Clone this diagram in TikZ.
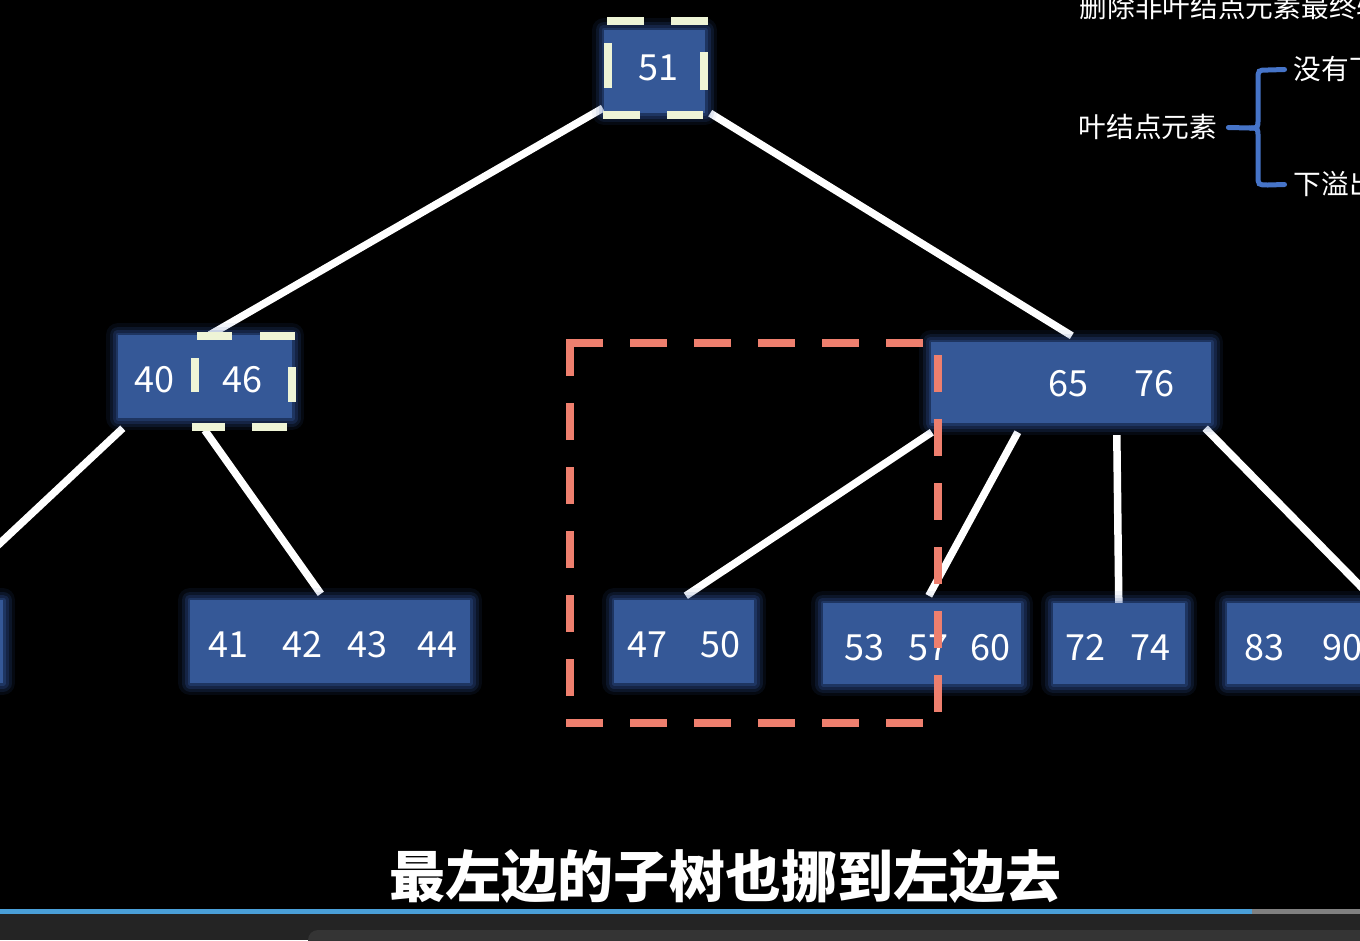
\documentclass[tikz,border=0pt]{standalone}
\usepackage{fontspec}
\setmainfont{Noto Sans CJK SC}
\usetikzlibrary{calc}
\definecolor{nodeblue}{HTML}{355897}
\definecolor{glowblue}{HTML}{3558A0}
\definecolor{cream}{HTML}{EEF4D6}
\definecolor{salmon}{HTML}{EE7F6E}
\definecolor{bracecol}{HTML}{4674C8}
\definecolor{barblue}{HTML}{4A9FD8}
\definecolor{bargray}{HTML}{808080}
\definecolor{bandgray}{HTML}{242424}
\definecolor{pillgray}{HTML}{343434}
\tikzset{
  keybox/.style={rectangle, inner sep=0pt, fill=nodeblue,
    preaction={draw=glowblue, line width=24pt, draw opacity=0.06, line join=round},
    preaction={draw=glowblue, line width=17pt, draw opacity=0.09, line join=round},
    preaction={draw=glowblue, line width=11pt, draw opacity=0.13, line join=round},
    preaction={draw=glowblue, line width=5pt, draw opacity=0.18, line join=round}},
  num/.style={text=white, font=\fontsize{36}{40}\selectfont, inner sep=0pt, anchor=base},
  edgeline/.style={draw=white, line width=7.5pt},
  creamdash/.style={draw=cream, line width=8pt},
  reddash/.style={draw=salmon, line width=8pt, dash pattern=on 37pt off 27pt},
  sidetext/.style={text=white, font=\fontsize{27.7}{30}\selectfont, inner sep=0pt, anchor=base west},
  bracepath/.style={draw=bracecol, line width=5pt, line cap=round},
}
\begin{document}
\begin{tikzpicture}[x=1pt,y=-1pt]
\useasboundingbox (0,0) rectangle (1360,940);
\fill[black] (0,0) rectangle (1360,940);
\clip (0,0) rectangle (1360,940);

% internal nodes
\path
  (654.5,71.5)  node[keybox, minimum width=101pt, minimum height=83pt] (n51) {}
  (205,376.5)   node[keybox, minimum width=174pt, minimum height=83pt] (n4046) {}
  (1071,382.5)  node[keybox, minimum width=280pt, minimum height=81pt] (n6576) {};

% leaf nodes
\path
  (-48.5,641.5) node[keybox, minimum width=103pt, minimum height=83pt] (nL0) {}
  (330,641.5)   node[keybox, minimum width=280pt, minimum height=83pt] (n41) {}
  (684,641.5)   node[keybox, minimum width=140pt, minimum height=83pt] (n4750) {}
  (922,643.5)   node[keybox, minimum width=198pt, minimum height=81pt] (n5360) {}
  (1119,643.5)  node[keybox, minimum width=132pt, minimum height=81pt] (n7274) {}
  (1313.5,643.5) node[keybox, minimum width=173pt, minimum height=81pt] (n8390) {};

% edges
\draw[edgeline] ([xshift=-1pt,yshift=5pt]n51.south west) -- ($(n4046.north west)+(92,0)$);
\draw[edgeline] ([xshift=5pt]n51.south east) -- ($(n6576.north west)+(141,-6)$);
\draw[edgeline] ($(n4046.south west)+(5,10)$) -- ($(nL0.north west)+(42,-2)$);
\draw[edgeline] ($(n4046.south west)+(87,12)$) -- ($(n41.north west)+(131,-6)$);
\draw[edgeline] ($(n6576.south west)+(1,9)$) -- ($(n4750.north west)+(72,-4)$);
\draw[edgeline] ($(n6576.south west)+(87,9)$) -- ($(n5360.north west)+(106,-7)$);
\draw[edgeline] ($(n6576.south west)+(186,12)$) -- ($(n7274.north west)+(66,0)$);
\draw[edgeline] ($(n6576.south east)+(-6,5)$) -- ($(n8390.north west)+(150,0)$);

% redraw boxes over edges
\path
  (654.5,71.5)  node[keybox, minimum width=101pt, minimum height=83pt] {}
  (205,376.5)   node[keybox, minimum width=174pt, minimum height=83pt] {}
  (1071,382.5)  node[keybox, minimum width=280pt, minimum height=81pt] {}
  (-48.5,641.5) node[keybox, minimum width=103pt, minimum height=83pt] {}
  (330,641.5)   node[keybox, minimum width=280pt, minimum height=83pt] {}
  (684,641.5)   node[keybox, minimum width=140pt, minimum height=83pt] {}
  (922,643.5)   node[keybox, minimum width=198pt, minimum height=81pt] {}
  (1119,643.5)  node[keybox, minimum width=132pt, minimum height=81pt] {}
  (1313.5,643.5) node[keybox, minimum width=173pt, minimum height=81pt] {};

% numbers
\node[num] (t51) at (658,80) {51};
\node[num] (t40) at (154.5,392) {40};
\node[num] (t46) at (242,392) {46};
\node[num] (t65) at (1068,396) {65};
\node[num] (t76) at (1154,396) {76};
\node[num] (t41) at (228,657) {41};
\node[num] (t42) at (302,657) {42};
\node[num] (t43) at (367,657) {43};
\node[num] (t44) at (437,657) {44};
\node[num] (t47) at (647,657) {47};
\node[num] (t50) at (720,657) {50};
\node[num] (t53) at (864,660) {53};
\node[num] (t57) at (928,660) {57};
\node[num] (t60) at (990,660) {60};
\node[num] (t72) at (1085,660) {72};
\node[num] (t74) at (1150,660) {74};
\node[num] (t83) at (1264,660) {83};
\node[num] (t90) at (1342,660) {90};

% cream dashed outlines
\draw[creamdash] (607,21) -- (644,21) (671,21) -- (708,21)
                 (603,115) -- (640,115) (667,115) -- (703,115)
                 (608,43) -- (608,88) (704,52) -- (704,90);
\draw[creamdash] (197,336) -- (232,336) (260,336) -- (295,336)
                 (192,427) -- (225,427) (252,427) -- (287,427)
                 (195,358) -- (195,392) (292,367) -- (292,402);

% red dashed selection
\draw[reddash] (566,343) -- (938,343) -- (938,723);
\draw[reddash] (566,723) -- (938,723);
\draw[reddash] (570,696) -- (570,343);

% top right annotations
\node[sidetext] (tdel) at (1079.5,17) {删除非叶结点元素最终转};
\node[sidetext] (tleaf) at (1078.5,137.5) {叶结点元素};
\node[sidetext] (tno) at (1293.5,79.5) {没有下溢};
\node[sidetext] (tunder) at (1293.5,194.5) {下溢出};
\coordinate (bmid) at (1258,128);
\draw[bracepath] ($(tleaf.base east)+(11,-10)$) -- ($(bmid)+(-8,0)$)
   .. controls ($(bmid)+(0,0)$) .. ($(bmid)+(0,-9)$) -- (1258,80)
   .. controls (1258,70) .. (1268,70) -- ($(tno.base west)+(-9,-10)$);
\draw[bracepath] ($(bmid)+(-8,0)$)
   .. controls ($(bmid)+(0,0)$) .. ($(bmid)+(0,9)$) -- (1258,175)
   .. controls (1258,185) .. (1268,185) -- ($(tunder.base west)+(-9,-10)$);

% subtitle
\node[text=white, font=\bfseries\fontsize{56}{60}\selectfont, inner sep=0pt, anchor=base] (sub) at (725,897) {最左边的子树也挪到左边去};

% player bar
\fill[bandgray] (0,913) rectangle (1360,940);
\fill[barblue] (0,909) rectangle (1252,914);
\fill[bargray] (1252,909) rectangle (1360,914);
\fill[pillgray, rounded corners=10pt] (308,930) rectangle (1400,970);
\end{tikzpicture}
\end{document}
